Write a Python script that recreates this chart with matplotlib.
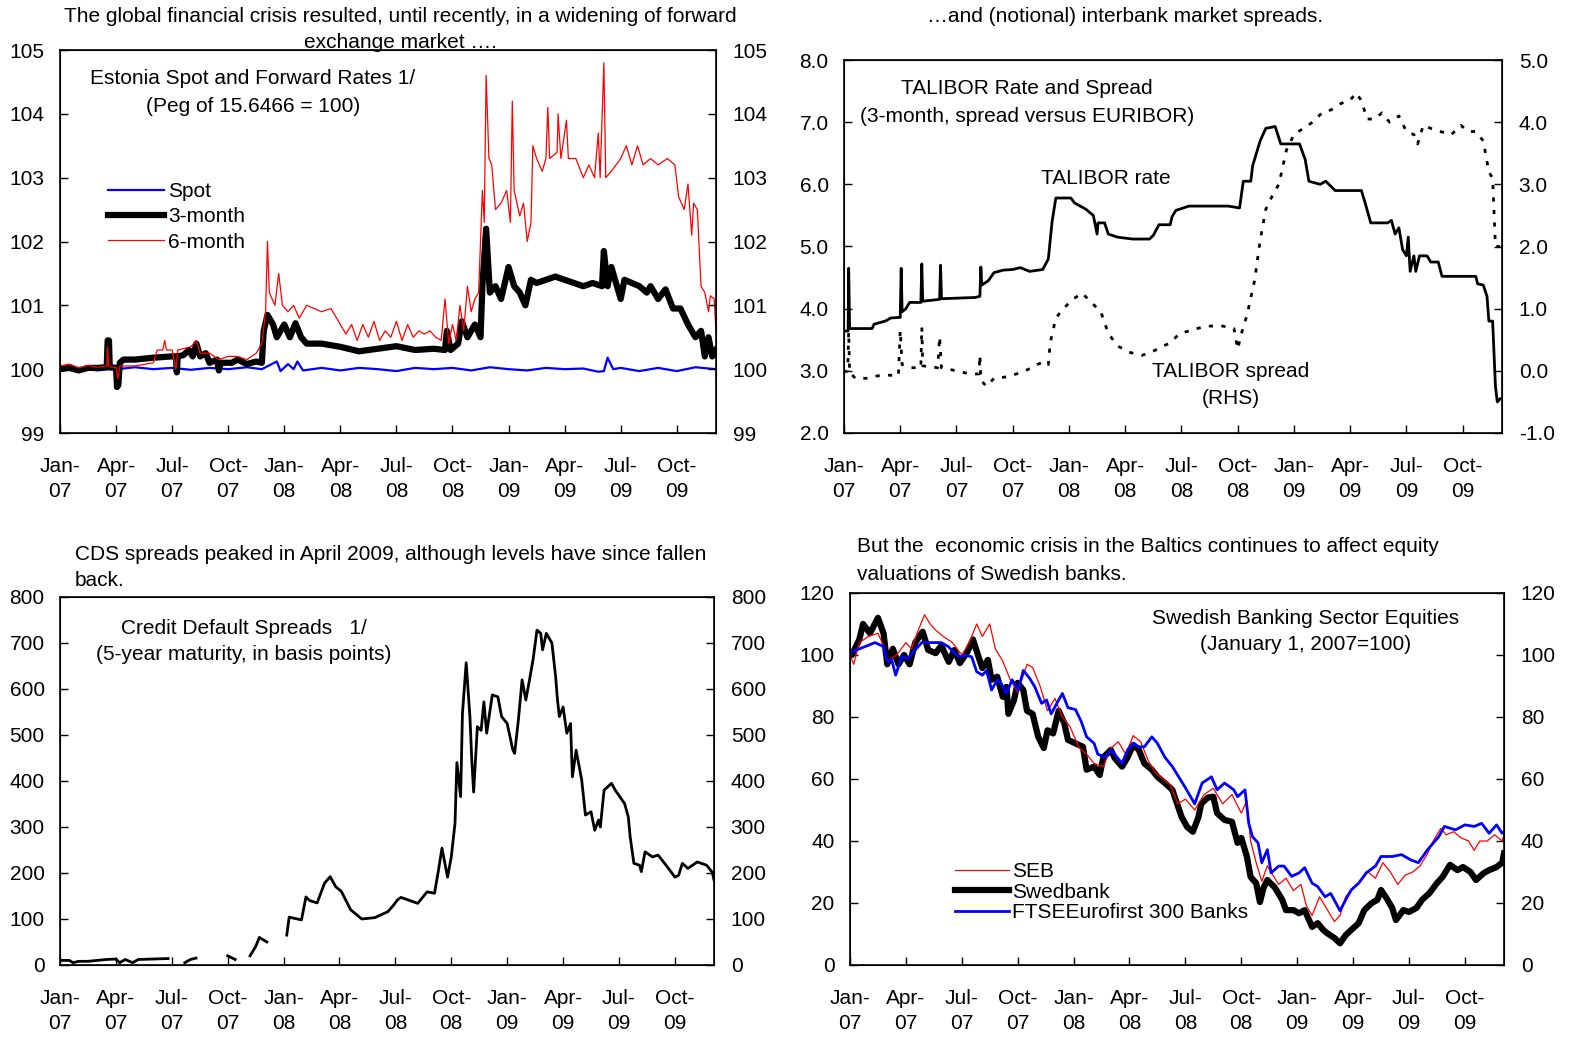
import numpy as np
import matplotlib
matplotlib.use("Agg")
import matplotlib.pyplot as plt
from matplotlib.lines import Line2D

plt.rcParams['font.family'] = ['Liberation Sans', 'DejaVu Sans']
plt.rcParams['font.size'] = 15

## Data (x = months since Jan 1 2007) ##
qmonths = ["Jan", "Apr", "Jul", "Oct"]
qyears = ["07", "08", "09"]
qlabels = [m + "-\n" + y for y in qyears for m in qmonths]
qticks = np.arange(0, 34, 3)

# Panel 1 : Estonia spot and forward rates
spot_m = [0, 1, 2, 2.6, 3.1, 4, 5, 6, 7, 8, 9, 10, 10.8, 11.2, 11.6, 11.8, 12.2, 12.5, 12.7, 13.0,
          14, 15, 16, 17, 18, 19, 20, 21, 22, 23, 24, 25, 26, 27, 28, 28.8, 29.1, 29.3, 29.6, 30,
          31, 32, 33, 34, 35.1]
spot_v = [100.0, 100.02, 99.98, 100.0, 100.0, 100.03, 100.0, 100.02, 99.99, 100.02, 100.0, 100.03,
          100.0, 100.06, 100.12, 99.97, 100.08, 100.0, 100.12, 99.98, 100.02, 99.98, 100.02, 100.0,
          99.97, 100.02, 100.0, 100.02, 99.98, 100.03, 100.0, 99.98, 100.02, 100.0, 100.01, 99.96,
          99.97, 100.18, 100.0, 100.02, 99.97, 100.02, 99.97, 100.03, 100.0]

m3_m = [0, 0.5, 1, 1.5, 2, 2.5, 2.55, 2.62, 2.66, 3.0, 3.05, 3.12, 3.2, 3.4, 4, 5, 6.0, 6.2, 6.25,
        6.3, 6.6, 6.9, 7.1, 7.3, 7.5, 7.8, 8.0, 8.4, 8.5, 8.6, 9.2, 9.5, 10.0, 10.5, 10.8, 10.9,
        11.1, 11.4, 11.6, 12.0, 12.3, 12.6, 12.9, 13.2, 14, 15, 16, 17, 18, 19, 20, 20.6, 20.7,
        20.9, 21.3, 21.5, 21.8, 22.2, 22.5, 22.6, 22.8, 23.0, 23.3, 23.6, 24.0, 24.3, 24.6, 24.9,
        25.2, 25.5, 26.0, 26.5, 27.0, 27.5, 28.0, 28.5, 29.0, 29.1, 29.3, 29.5, 29.8, 30.0, 30.2,
        30.6, 31.0, 31.4, 31.6, 32.0, 32.4, 32.8, 33.2, 33.6, 34.0, 34.3, 34.5, 34.7, 34.9, 35.1]
m3_v = [100.0, 100.02, 99.98, 100.02, 100.02, 100.03, 100.45, 100.45, 100.03, 100.02, 99.72, 99.75,
        100.1, 100.15, 100.15, 100.18, 100.2, 100.2, 99.95, 100.2, 100.22, 100.3, 100.2, 100.4,
        100.2, 100.25, 100.1, 100.15, 99.98, 100.1, 100.1, 100.15, 100.08, 100.12, 100.1, 100.6,
        100.85, 100.7, 100.5, 100.7, 100.5, 100.72, 100.5, 100.4, 100.4, 100.35, 100.28, 100.32,
        100.36, 100.3, 100.32, 100.3, 100.6, 100.3, 100.4, 100.75, 100.5, 100.7, 100.5, 101.3,
        102.2, 101.2, 101.3, 101.1, 101.6, 101.3, 101.2, 101.0, 101.4, 101.35, 101.4, 101.45,
        101.4, 101.35, 101.3, 101.35, 101.3, 101.85, 101.3, 101.6, 101.3, 101.1, 101.4, 101.35,
        101.3, 101.2, 101.3, 101.1, 101.25, 100.95, 100.95, 100.7, 100.5, 100.6, 100.2, 100.5,
        100.2, 100.3]

m6_m = [0, 0.5, 1.0, 1.5, 2.0, 2.5, 2.55, 2.6, 3.0, 3.1, 3.2, 4.0, 5.0, 5.2, 5.5, 5.6, 5.7, 6.0,
        6.2, 6.3, 7.0, 7.3, 7.5, 8, 8.5, 9, 9.5, 10, 10.5, 10.8, 11.0, 11.1, 11.2, 11.5, 11.7, 11.9,
        12.2, 12.5, 12.8, 13.2, 13.6, 14, 14.5, 15, 15.3, 15.6, 15.9, 16.2, 16.5, 16.8, 17.1, 17.4,
        17.7, 18.0, 18.3, 18.6, 18.9, 19.2, 19.5, 19.8, 20.1, 20.4, 20.6, 20.8, 21.0, 21.2, 21.4,
        21.6, 21.8, 22.0, 22.2, 22.4, 22.6, 22.7, 22.8, 22.95, 23.1, 23.3, 23.6, 23.9, 24.1, 24.2,
        24.3, 24.6, 24.8, 25.0, 25.2, 25.3, 25.5, 25.8, 26.0, 26.1, 26.2, 26.6, 26.65, 26.8, 27.1,
        27.2, 27.6, 28.0, 28.3, 28.6, 28.8, 28.9, 29.1, 29.2, 29.5, 30.0, 30.3, 30.6, 30.9, 31.2,
        31.6, 32.0, 32.5, 32.9, 33.1, 33.4, 33.6, 33.8, 33.9, 34.1, 34.3, 34.5, 34.7, 34.8, 35.0,
        35.1]
m6_v = [100.05, 100.08, 100.02, 100.06, 100.03, 100.05, 100.35, 100.05, 100.02, 99.85, 100.05,
        100.05, 100.1, 100.3, 100.3, 100.45, 100.3, 100.3, 100.0, 100.3, 100.35, 100.45, 100.25,
        100.25, 100.15, 100.2, 100.2, 100.15, 100.25, 100.4, 100.9, 102.0, 101.2, 101.0, 101.5,
        101.0, 100.9, 101.0, 100.8, 101.0, 100.95, 100.9, 100.95, 100.7, 100.55, 100.7, 100.45,
        100.7, 100.5, 100.75, 100.45, 100.6, 100.5, 100.75, 100.45, 100.7, 100.5, 100.6, 100.55,
        100.6, 100.5, 100.45, 101.1, 100.4, 100.7, 100.45, 101.0, 100.6, 101.3, 100.9, 101.1,
        101.2, 102.8, 102.3, 104.6, 103.3, 103.2, 102.5, 102.6, 102.8, 102.3, 104.2, 102.8, 102.4,
        102.6, 102.0, 102.3, 103.5, 103.3, 103.1, 103.3, 104.1, 103.3, 103.4, 104.0, 103.3, 103.9,
        103.3, 103.3, 103.0, 103.2, 103.0, 103.7, 103.0, 104.8, 103.0, 103.1, 103.3, 103.5, 103.2,
        103.5, 103.2, 103.3, 103.2, 103.3, 103.2, 102.7, 102.5, 102.9, 102.1, 102.6, 102.5, 101.3,
        101.2, 100.9, 101.15, 101.1, 100.6]

# Panel 2 : TALIBOR rate (LHS) and spread (RHS)
rate_m = [0, 0.22, 0.25, 0.3, 1.5, 1.6, 2.2, 2.5, 3.0, 3.05, 3.1, 3.3, 3.5, 4.1, 4.15, 4.2, 5.1,
          5.15, 5.2, 7.0, 7.25, 7.3, 7.35, 7.7, 8.0, 8.5, 9.0, 9.4, 9.9, 10.6, 10.9, 11.1, 11.3,
          12.1, 12.3, 12.9, 13.3, 13.5, 13.55, 13.9, 14.1, 14.6, 15.4, 16.3, 16.5, 16.8, 17.4,
          17.5, 17.7, 18.4, 20.5, 21.1, 21.3, 21.7, 21.8, 22.0, 22.2, 22.5, 23.0, 23.3, 24.3, 24.6,
          24.8, 25.4, 25.7, 26.2, 27.6, 27.8, 28.1, 29.0, 29.2, 29.4, 29.6, 29.8, 30.0, 30.1, 30.2,
          30.4, 30.5, 30.7, 31.1, 31.3, 31.7, 31.9, 33.7, 33.8, 34.1, 34.3, 34.4, 34.6, 34.75,
          34.85, 35.0]
rate_v = [3.64, 3.64, 4.65, 3.68, 3.68, 3.75, 3.8, 3.85, 3.86, 4.65, 3.95, 4.0, 4.1, 4.1, 4.72,
          4.12, 4.15, 4.7, 4.16, 4.18, 4.2, 4.67, 4.38, 4.45, 4.58, 4.62, 4.63, 4.66, 4.6, 4.63,
          4.8, 5.4, 5.78, 5.78, 5.7, 5.6, 5.5, 5.2, 5.38, 5.38, 5.2, 5.15, 5.12, 5.12, 5.18, 5.35,
          5.35, 5.48, 5.58, 5.65, 5.65, 5.62, 6.05, 6.05, 6.3, 6.5, 6.7, 6.9, 6.93, 6.65, 6.65,
          6.4, 6.05, 6.0, 6.05, 5.9, 5.9, 5.7, 5.38, 5.38, 5.42, 5.2, 5.3, 4.95, 4.85, 5.15, 4.6,
          4.85, 4.6, 4.85, 4.85, 4.75, 4.75, 4.52, 4.52, 4.4, 4.38, 4.2, 3.8, 3.8, 2.75, 2.5, 2.55]

spread_m = [0, 0.2, 0.25, 0.3, 0.6, 1.2, 1.8, 2.4, 2.9, 3.0, 3.1, 3.5, 4.1, 4.15, 4.2, 5.0, 5.1,
            5.2, 6.0, 6.7, 7.2, 7.25, 7.3, 7.6, 8.0, 8.6, 9.2, 9.8, 10.3, 10.7, 10.9, 11.0, 11.3,
            11.7, 12.2, 12.7, 13.2, 13.7, 14.1, 14.6, 15.2, 15.9, 16.4, 16.9, 17.4, 17.9, 18.5,
            19.3, 20.2, 20.8, 21.0, 21.2, 21.5, 21.9, 22.2, 22.5, 22.9, 23.2, 23.6, 24.0, 24.5,
            25.0, 25.5, 26.0, 26.5, 27.0, 27.3, 27.6, 27.9, 28.3, 28.7, 29.1, 29.6, 30.0, 30.4,
            30.6, 30.9, 31.3, 31.8, 32.4, 32.9, 33.3, 33.7, 34.1, 34.4, 34.6, 34.75, 35.0]
spread_v = [-0.02, 0.0, 0.63, -0.02, -0.12, -0.12, -0.08, -0.07, -0.08, 0.65, 0.1, 0.05, 0.05,
            0.7, 0.08, 0.05, 0.55, 0.05, 0.0, -0.05, -0.05, 0.25, -0.15, -0.25, -0.12, -0.1, -0.05,
            0.02, 0.1, 0.15, 0.1, 0.45, 0.85, 1.0, 1.15, 1.25, 1.1, 0.95, 0.6, 0.4, 0.3, 0.25, 0.3,
            0.38, 0.45, 0.6, 0.65, 0.72, 0.72, 0.68, 0.35, 0.6, 0.9, 1.45, 2.1, 2.6, 2.85, 3.0,
            3.55, 3.8, 3.9, 4.0, 4.15, 4.2, 4.3, 4.35, 4.47, 4.35, 4.05, 4.05, 4.15, 4.0, 4.1,
            3.85, 3.8, 3.65, 3.95, 3.9, 3.85, 3.8, 3.95, 3.85, 3.85, 3.7, 3.2, 3.1, 2.0, 2.0]

# Panel 3 : CDS spreads (gaps = missing data)
cds_m = [0, 0.5, 0.7, 1.0, 1.5, 2.0, 2.5, 3.0, 3.2, 3.5, 3.9, 4.2, 5.0, 5.8, 5.9,
         6.7, 7.0, 7.3, 7.4,
         9.0, 9.4, 9.5,
         10.2, 10.5, 10.7, 11.1, 11.2,
         12.17, 12.3, 12.96, 13.2, 13.4, 13.8, 14.2, 14.5, 14.8, 15.1, 15.6, 16.2, 16.9, 17.6,
         17.9, 18.1, 18.3, 19.2, 19.7, 20.1, 20.3, 20.5, 20.8, 21.0, 21.2, 21.3, 21.5, 21.6, 21.8,
         22.0, 22.1, 22.2, 22.4, 22.6, 22.75, 22.9, 23.2, 23.5, 23.7, 24.0, 24.3, 24.4, 24.6, 24.8,
         25.0, 25.2, 25.4, 25.6, 25.8, 25.9, 26.1, 26.4, 26.6, 26.7, 26.8, 27.0, 27.2, 27.4, 27.5,
         27.7, 28.0, 28.2, 28.5, 28.7, 28.9, 29.0, 29.2, 29.6, 29.8, 30.3, 30.5, 30.6, 30.8, 31.1,
         31.2, 31.4, 31.8, 32.1, 32.6, 33.0, 33.2, 33.4, 33.7, 34.2, 34.7, 35.0, 35.1]
cds_v = [10, 10, 5, 8, 8, 10, 12, 13, 5, 12, 5, 12, 13, 14, np.nan,
         5, 12, 15, np.nan,
         20, 12, np.nan,
         20, 40, 60, 50, np.nan,
         65, 104, 98, 148, 140, 135, 178, 192, 170, 160, 120, 100, 103, 116,
         130, 141, 147, 134, 159, 156, 203, 254, 191, 235, 308, 440, 366, 547, 657,
         540, 446, 376, 518, 510, 572, 504, 587, 583, 540, 525, 468, 460, 532, 620,
         576, 620, 667, 728, 721, 685, 721, 700, 627, 576, 540, 561, 504, 525, 409,
         467, 402, 326, 333, 293, 315, 300, 380, 395, 380, 351, 322, 279, 221, 217,
         203, 246, 235, 239, 213, 191, 195, 221, 210, 224, 217, 202, 185]

# Panel 4 : Swedish banking sector equities
swed_m = [0, 0.1, 0.5, 0.7, 1.07, 1.5, 1.8, 2.0, 2.3, 2.6, 2.9, 3.2, 3.5, 3.9, 4.2, 4.6, 4.9, 5.3,
          5.6, 5.9, 6.3, 6.6, 6.9, 7.1, 7.4, 7.6, 7.9, 8.2, 8.4, 8.5, 8.8, 9.0, 9.3, 9.5, 9.8, 10.1,
          10.4, 10.6, 10.9, 11.2, 11.5, 11.7, 12.1, 12.5, 12.7, 13.1, 13.4, 13.6, 14.0, 14.2, 14.6,
          14.9, 15.2, 15.5, 15.8, 16.2, 16.5, 16.9, 17.3, 17.8, 18.1, 18.4, 18.7, 18.85, 19.2,
          19.5, 19.7, 20.1, 20.5, 20.8, 21.0, 21.3, 21.5, 21.8, 22.0, 22.2, 22.4, 22.8, 23.2, 23.4,
          23.8, 24.1, 24.4, 24.8, 25.1, 25.4, 25.6, 26.0, 26.3, 26.6, 26.9, 27.3, 27.6, 28.0, 28.3,
          28.5, 28.8, 29.1, 29.3, 29.7, 30.0, 30.4, 30.7, 31.1, 31.5, 31.8, 32.2, 32.6, 32.9, 33.3,
          33.6, 34.0, 34.3, 34.7, 35.0, 35.1]
swed_v = [100, 100, 105, 110, 107, 112, 107, 97, 102, 97, 100, 97, 104, 107.5, 101.6, 100.6, 103,
          97.8, 101.6, 97.4, 101, 105, 99.4, 95.8, 98.4, 92, 93, 86.5, 89.7, 81, 85.4, 91, 88.7,
          82, 81, 73.6, 70, 75.7, 74.7, 82, 78, 72.6, 71.5, 70.4, 63, 64, 61.3, 67, 69.4, 66.8, 64,
          67, 71, 69.4, 65, 63, 60.7, 58.7, 56.5, 47.7, 44.5, 43, 47.7, 52, 54, 54.3, 49, 46.8,
          46.2, 39.4, 41, 35, 28.4, 26.4, 20.3, 25, 27.4, 25, 21, 17.7, 17.7, 16.7, 17.7, 12.3,
          13.5, 11.3, 10.3, 8.7, 7, 9.6, 11.3, 13.5, 17.7, 20, 21, 24.2, 21.5, 18.4, 14.5, 17.7,
          17.1, 18.4, 21, 23.2, 26.4, 28.4, 32.3, 30.6, 31.6, 30, 27.4, 29.6, 30.6, 31.6, 33, 36]

seb_m = [0, 0.2, 0.5, 1.0, 1.5, 1.8, 2.0, 2.5, 3.0, 3.3, 3.6, 4.0, 4.3, 4.6, 5.0, 5.5, 6.0, 6.4,
         6.8, 7.1, 7.5, 7.8, 8.2, 8.6, 9.0, 9.5, 9.8, 10.2, 10.6, 11.0, 11.4, 11.8, 12.3, 12.7,
         13.1, 13.6, 14.0, 14.4, 14.8, 15.2, 15.6, 16.0, 16.4, 16.8, 17.2, 17.6, 18.0, 18.5, 19.0,
         19.5, 20.0, 20.5, 21.0, 21.3, 21.5, 21.8, 22.1, 22.4, 22.7, 23.0, 23.4, 23.8, 24.2, 24.5,
         24.8, 25.2, 25.6, 26.0, 26.3, 26.6, 27.0, 27.4, 27.8, 28.2, 28.6, 29.0, 29.4, 29.8, 30.2,
         30.6, 31.0, 31.3, 31.7, 32.0, 32.4, 32.8, 33.2, 33.5, 33.8, 34.2, 34.6, 35.0, 35.1]
seb_v = [100, 97, 104, 106, 107, 103, 98, 100, 104, 102, 107, 113, 110, 108, 106, 104, 100, 104,
         110, 106, 110, 102, 98, 92, 88, 97, 96, 90, 82, 86, 80, 77, 70, 68, 65, 64, 70, 72, 68,
         74, 72, 66, 62, 60, 58, 52, 53.5, 50, 55, 57, 52, 55, 49, 53, 40, 33, 27, 32, 29, 26, 28,
         24, 26, 19, 16, 22, 18, 14, 16, 22, 25, 27, 30, 28, 33, 30, 26, 29, 30, 32, 36, 40, 44,
         42, 43, 41, 40, 37, 40, 40, 42, 40, 42]

ftse_m = [0, 0.09, 0.8, 1.34, 1.8, 2.0, 2.24, 2.45, 2.77, 3.13, 3.49, 3.85, 4.4, 4.9, 5.28, 5.63,
          5.9, 6.17, 6.53, 6.8, 7.1, 7.33, 7.6, 7.9, 8.1, 8.4, 8.7, 9.03, 9.3, 9.65, 9.92, 10.28,
          10.55, 10.8, 11.2, 11.4, 11.7, 12.1, 12.4, 12.7, 13.1, 13.3, 13.7, 14.0, 14.2, 14.6,
          14.9, 15.2, 15.5, 15.8, 16.2, 16.5, 16.9, 17.3, 17.97, 18.5, 18.9, 19.4, 19.7, 20.1,
          20.6, 20.8, 21.2, 21.4, 21.6, 21.9, 22.1, 22.4, 22.6, 23.0, 23.3, 23.7, 24.1, 24.4, 24.8,
          25.1, 25.5, 25.8, 26.3, 26.6, 26.9, 27.3, 27.7, 28.2, 28.5, 29.1, 29.6, 30.1, 30.5, 31.0,
          31.6, 31.9, 32.5, 33.0, 33.5, 33.9, 34.3, 34.7, 35.0, 35.1]
ftse_v = [100, 101, 102.7, 104, 102.7, 97.8, 98.4, 93.5, 99.4, 98.9, 101.6, 104, 104, 104, 102.7,
          100.5, 99.4, 100, 99.4, 94.6, 93.5, 95, 88.7, 92, 91, 87.6, 92, 88.7, 95, 92.4, 89.7,
          84.4, 85.5, 81, 85.5, 87.6, 83, 82.4, 78.7, 73.6, 71.5, 68, 67, 69.4, 68, 65, 69.4, 71.5,
          70.4, 70.4, 73.6, 71.5, 67, 64, 57.5, 52, 58.7, 60.7, 56.5, 58.7, 56.5, 54.3, 56.5,
          45.7, 41.4, 39.4, 33, 37.2, 29.7, 31.9, 31.9, 28.6, 29.7, 31.4, 26.4, 25.3, 22, 23.1,
          17.5, 21, 24.2, 26.4, 29.7, 31.9, 35, 35, 35.6, 33.9, 33, 37.2, 41.4, 44.7, 43.6, 45.2,
          44.7, 45.7, 42.5, 45.2, 42.5, 43]

## Layout helpers ##
W, H = 1572, 1037
fig = plt.figure(figsize=(W / 100, H / 100), dpi=100)


def px_axes(l, t, r, b):
    return fig.add_axes([l / W, 1 - b / H, (r - l) / W, (b - t) / H])


def ftext(x, y, s, **kw):
    fig.text(x / W, 1 - y / H, s, va='center', **kw)


def style(ax, ylim, yticks, fmt, rlim=None, rticks=None):
    ax.set_xlim(0, 35.1)
    ax.set_ylim(*ylim)
    ax.set_xticks(qticks)
    ax.set_xticklabels(qlabels, linespacing=1.45)
    ax.set_yticks(yticks)
    ax.set_yticklabels([fmt % v for v in yticks])
    ax.tick_params(direction='in', length=6, width=1)
    ax.tick_params(axis='x', pad=17)
    ax.tick_params(axis='y', pad=11)
    for s in ax.spines.values():
        s.set_linewidth(1.2)
    ax2 = ax.twinx()
    ax2.set_ylim(*(rlim if rlim else ylim))
    rt = rticks if rticks is not None else yticks
    ax2.set_yticks(rt)
    ax2.set_yticklabels([fmt % v for v in rt])
    ax2.tick_params(direction='in', length=6, width=1, pad=12)
    return ax2


# -------------------------------------------------------- #
# Panel 1
ax1 = px_axes(60, 50, 716, 433)
style(ax1, (99, 105), np.arange(99, 106, 1), "%d")
ax1.plot(spot_m, spot_v, color='#0000ff', lw=1.6)
ax1.plot(m3_m, m3_v, color='black', lw=4.5)
ax1.plot(m6_m, m6_v, color='#ff0000', lw=0.9)
h1 = [Line2D([], [], color='#0000ff', lw=1.6), Line2D([], [], color='black', lw=4.5),
      Line2D([], [], color='#ff0000', lw=0.9)]
fig.legend(h1, ["Spot", "3-month", "6-month"], loc='upper left', frameon=False,
           bbox_to_anchor=(108 / W, 1 - 182 / H), borderaxespad=0, borderpad=0,
           handlelength=2.7, handletextpad=0.2, labelspacing=0.3)
ftext(400, 16, "The global financial crisis resulted, until recently, in a widening of forward",
      ha='center')
ftext(400, 43, "exchange market ….", ha='center')
ftext(253, 79, "Estonia Spot and Forward Rates 1/", ha='center')
ftext(253, 106, "(Peg of 15.6466 = 100)", ha='center')

# Panel 2
ax2 = px_axes(844, 60, 1502, 433)
ax2r = style(ax2, (2, 8), np.arange(2, 8.5, 1), "%.1f", (-1, 5), np.arange(-1, 5.5, 1))
ax2.plot(rate_m, rate_v, color='black', lw=2)
ax2r.plot(spread_m, spread_v, color='black', lw=2, linestyle=(0, (1.5, 3)))
ftext(1125, 17, "…and (notional) interbank market spreads.", ha='center')
ftext(1027, 89, "TALIBOR Rate and Spread", ha='center')
ftext(1027, 116, "(3-month, spread versus EURIBOR)", ha='center')
ftext(1106, 178, "TALIBOR rate", ha='center')
ftext(1231, 371, "TALIBOR spread", ha='center')
ftext(1231, 398, "(RHS)", ha='center')

# Panel 3
ax3 = px_axes(60, 597, 714, 965)
style(ax3, (0, 800), np.arange(0, 801, 100), "%d")
ax3.plot(cds_m, cds_v, color='black', lw=2)
ftext(75, 555, "CDS spreads peaked in April 2009, although levels have since fallen", ha='left')
ftext(75, 581, "back.", ha='left')
ftext(244, 628, "Credit Default Spreads   1/", ha='center')
ftext(244, 655, "(5-year maturity, in basis points)", ha='center')

# Panel 4
ax4 = px_axes(850, 593, 1504, 965)
style(ax4, (0, 120), np.arange(0, 121, 20), "%d")
ax4.plot(swed_m, swed_v, color='black', lw=4.5)
ax4.plot(seb_m, seb_v, color='#ff0000', lw=0.9)
ax4.plot(ftse_m, ftse_v, color='#0000ff', lw=2)
h4 = [Line2D([], [], color='#ff0000', lw=0.9), Line2D([], [], color='black', lw=4.5),
      Line2D([], [], color='#0000ff', lw=2)]
fig.legend(h4, ["SEB", "Swedbank", "FTSEEurofirst 300 Banks"], loc='upper left', frameon=False,
           bbox_to_anchor=(955 / W, 1 - 862 / H), borderaxespad=0, borderpad=0,
           handlelength=2.6, handletextpad=0.15, labelspacing=0.08)
ftext(857, 547, "But the  economic crisis in the Baltics continues to affect equity", ha='left')
ftext(857, 574, "valuations of Swedish banks.", ha='left')
ftext(1306, 618, "Swedish Banking Sector Equities", ha='center')
ftext(1306, 645, "(January 1, 2007=100)", ha='center')

fig.savefig("out.png", dpi=100)
